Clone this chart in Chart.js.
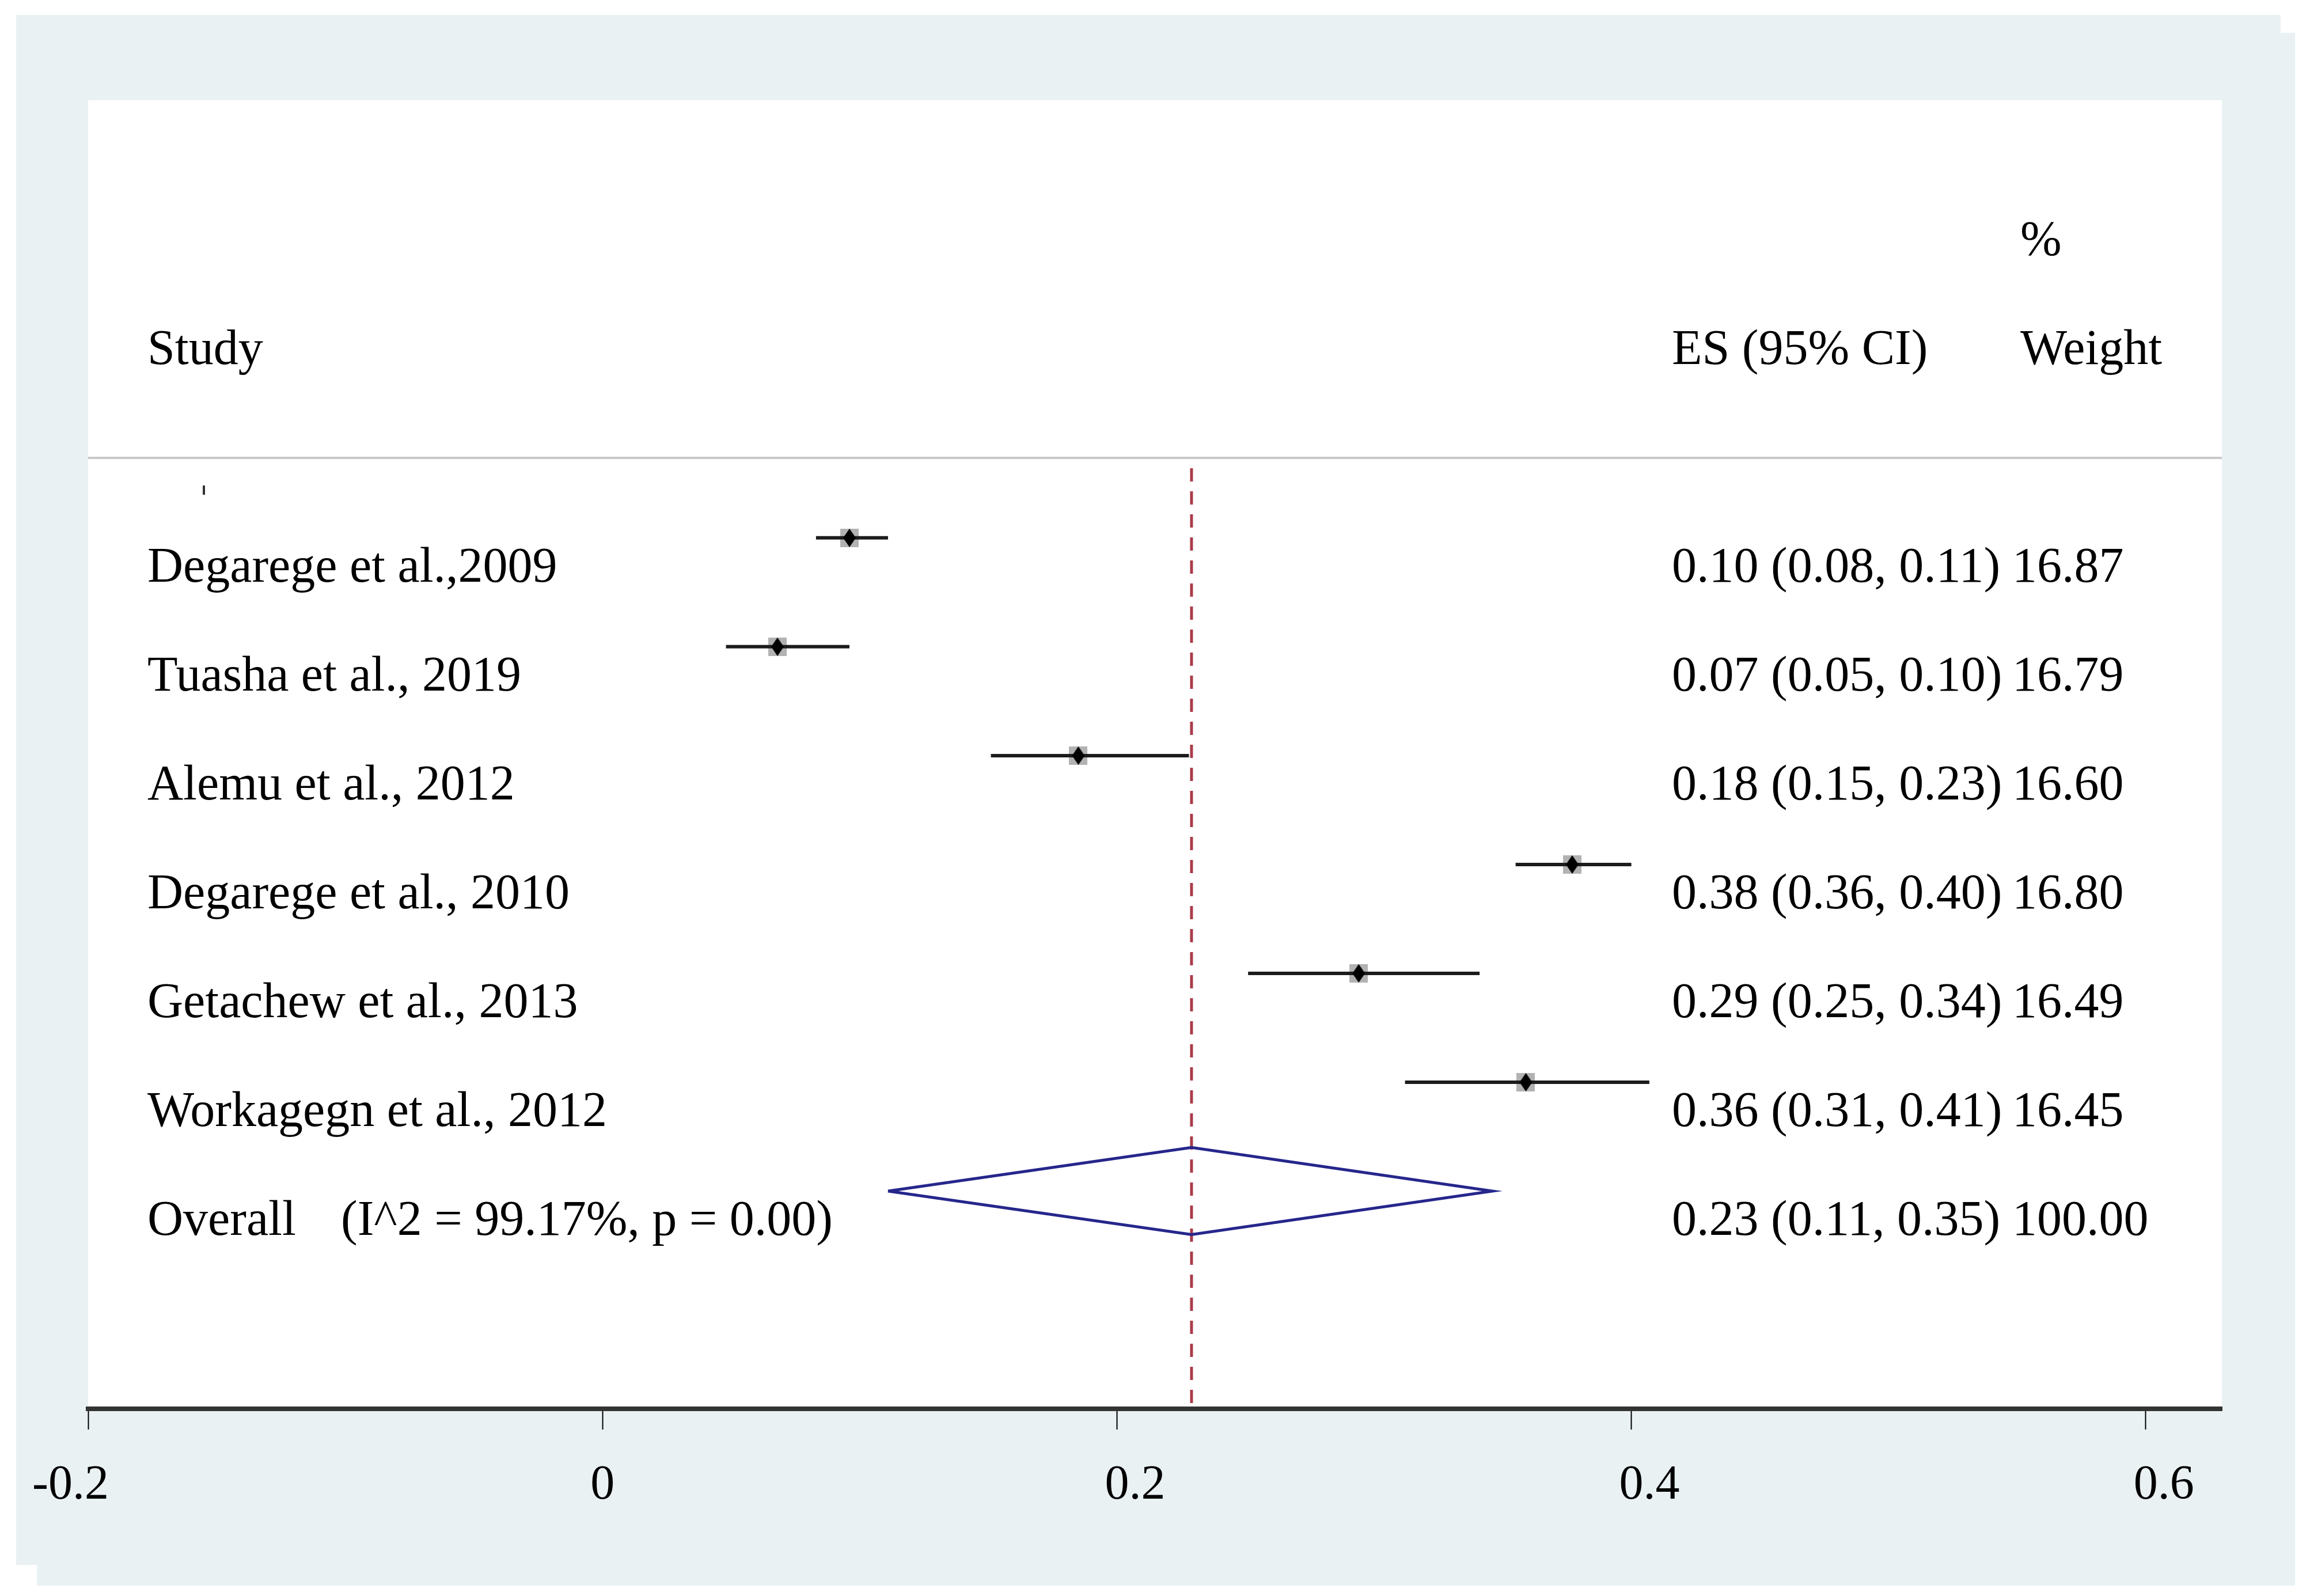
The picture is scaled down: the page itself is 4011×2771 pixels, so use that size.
<!DOCTYPE html>
<html>
<head>
<meta charset="utf-8">
<script src="https://cdn.jsdelivr.net/npm/chart.js@4.4.0/dist/chart.umd.min.js"></script>
<style>
  html, body { margin: 0; padding: 0; background: #fff; }
  canvas { display: block; }
</style>
</head>
<body>
<canvas id="forest" width="4011" height="2771"></canvas>
<script>
// study rows, top to bottom
var studies = ["Degarege et al.,2009", "Tuasha et al., 2019", "Alemu et al., 2012",
               "Degarege et al., 2010", "Getachew et al., 2013", "Workagegn et al., 2012"];
var es    = [0.096, 0.068, 0.185, 0.377, 0.294, 0.359];
var lower = [0.083, 0.048, 0.151, 0.355, 0.251, 0.312];
var upper = [0.111, 0.096, 0.228, 0.400, 0.341, 0.407];
var esLabels = ["0.10 (0.08, 0.11)", "0.07 (0.05, 0.10)", "0.18 (0.15, 0.23)",
                "0.38 (0.36, 0.40)", "0.29 (0.25, 0.34)", "0.36 (0.31, 0.41)"];
var weights = ["16.87", "16.79", "16.60", "16.80", "16.49", "16.45"];

var overallLabel = "Overall";
var hetLabel = "(I^2 = 99.17%, p = 0.00)";
var overallEs = 0.229, overallLo = 0.111, overallHi = 0.346;
var overallEsLabel = "0.23 (0.11, 0.35)";
var overallWeight = "100.00";

var xTicks = [-0.2, 0, 0.2, 0.4, 0.6];

var FONT = "86px 'Liberation Serif', 'Times New Roman', serif";
var overallRow = studies.length + 1;

// marker images: grey weight box and tall black diamond
function makeBox() {
    var c = document.createElement("canvas");
    c.width = 32; c.height = 32;
    var g = c.getContext("2d");
    g.fillStyle = "rgb(178,178,178)";
    g.fillRect(0, 0, 32, 32);
    return c;
}
function makeDiamond() {
    var c = document.createElement("canvas");
    c.width = 22; c.height = 32;
    var g = c.getContext("2d");
    g.fillStyle = "#000";
    g.beginPath();
    g.moveTo(11, 0); g.lineTo(22, 16); g.lineTo(11, 32); g.lineTo(0, 16);
    g.closePath();
    g.fill();
    return c;
}

var pts = es.map(function (v, i) { return { x: v, y: i + 1 }; });

var datasets = [];
datasets.push({
    data: pts, pointStyle: makeDiamond(), pointRadius: 10, showLine: false, order: 1
});
studies.forEach(function (s, i) {
    datasets.push({
        data: [{ x: lower[i], y: i + 1 }, { x: upper[i], y: i + 1 }],
        showLine: true, borderColor: "#1c1c1c", borderWidth: 6,
        pointRadius: 0, order: 2
    });
});
datasets.push({
    data: pts, pointStyle: makeBox(), pointRadius: 16, showLine: false, order: 3
});
datasets.push({
    data: [
        { x: overallLo, y: overallRow },
        { x: overallEs, y: overallRow - 0.4 },
        { x: overallHi, y: overallRow },
        { x: overallEs, y: overallRow + 0.4 },
        { x: overallLo, y: overallRow }
    ],
    showLine: true, borderColor: "rgb(38,38,140)", borderWidth: 5,
    borderJoinStyle: "miter", pointRadius: 0, fill: false, order: 2
});
datasets.push({
    data: [{ x: overallEs, y: 0.36 }, { x: overallEs, y: 9.0 }],
    showLine: true, borderColor: "rgb(170,60,74)", borderWidth: 5,
    borderDash: [23, 17], pointRadius: 0, order: 4
});

var background = {
    id: "background",
    beforeDraw: function (chart) {
        var ctx = chart.ctx, a = chart.chartArea;
        ctx.save();
        ctx.fillStyle = "#fff";
        ctx.fillRect(0, 0, chart.width, chart.height);
        ctx.fillStyle = "rgb(233,241,243)";
        ctx.fillRect(28, 26, 3932, 2691);
        ctx.fillRect(64, 57, 3921, 2696);
        ctx.fillStyle = "#fff";
        ctx.fillRect(a.left, a.top, a.right - a.left, a.bottom - a.top);
        ctx.restore();

        // negative tick label sits further left, as in the original
        var items = chart.scales.x.getLabelItems(chart.chartArea);
        items.forEach(function (it) {
            if (String(it.label).charAt(0) === "-" && !it._shifted) {
                it.options.translation[0] -= 76;
                it._shifted = true;
            }
        });
    }
};

var textColumns = {
    id: "textColumns",
    afterDraw: function (chart) {
        var ctx = chart.ctx, a = chart.chartArea, y = chart.scales.y;
        var base = function (row) { return y.getPixelForValue(row) + 76; };
        ctx.save();
        ctx.fillStyle = "#000";
        ctx.font = FONT;
        ctx.textBaseline = "alphabetic";
        ctx.textAlign = "left";

        ctx.fillText("%", 3508, base(-2));
        ctx.fillText("Study", 256, base(-1));
        ctx.fillText("ES (95% CI)", 2903, base(-1));
        ctx.fillText("Weight", 3508, base(-1));

        studies.forEach(function (s, i) {
            ctx.fillText(s, 256, base(i + 1));
            ctx.fillText(esLabels[i], 2903, base(i + 1));
            ctx.fillText(weights[i], 3494, base(i + 1));
        });
        ctx.fillText(overallLabel, 256, base(overallRow));
        ctx.fillText(hetLabel, 592, base(overallRow));
        ctx.fillText(overallEsLabel, 2903, base(overallRow));
        ctx.fillText(overallWeight, 3494, base(overallRow));

        // header rule
        var ry = y.getPixelForValue(0.265);
        ctx.strokeStyle = "rgb(200,200,200)";
        ctx.lineWidth = 4;
        ctx.beginPath();
        ctx.moveTo(a.left, ry);
        ctx.lineTo(a.right, ry);
        ctx.stroke();

        // stray tick under the rule
        ctx.strokeStyle = "#333";
        ctx.lineWidth = 4;
        ctx.beginPath();
        ctx.moveTo(354, ry + 48);
        ctx.lineTo(354, ry + 64);
        ctx.stroke();
        ctx.restore();
    }
};

var ctx = document.getElementById("forest").getContext("2d");
var chart = new Chart(ctx, {
    type: "scatter",
    data: { datasets: datasets },
    options: {
        responsive: false,
        devicePixelRatio: 1,
        animation: false,
        layout: { padding: { left: 153, right: 153, top: 174, bottom: 0 } },
        plugins: { legend: { display: false }, tooltip: { enabled: false } },
        scales: {
            x: {
                type: "linear",
                min: -0.2,
                max: 0.6296,
                afterBuildTicks: function (scale) {
                    scale.ticks = xTicks.map(function (v) { return { value: v }; });
                },
                afterFit: function (scale) { scale.height = 325; },
                border: { display: true, color: "#333", width: 8 },
                grid: {
                    display: true, drawOnChartArea: false, drawTicks: true,
                    tickLength: 36, tickColor: "#000", tickWidth: 2
                },
                ticks: {
                    color: "#000",
                    padding: 48,
                    align: "start",
                    labelOffset: -21,
                    maxRotation: 0,
                    autoSkip: false,
                    font: { family: "'Liberation Serif', 'Times New Roman', serif", size: 84 },
                    callback: function (v) { return String(v); }
                }
            },
            y: {
                type: "linear",
                display: false,
                reverse: true,
                min: -3.02,
                max: 9.0
            }
        }
    },
    plugins: [background, textColumns]
});
</script>
</body>
</html>
